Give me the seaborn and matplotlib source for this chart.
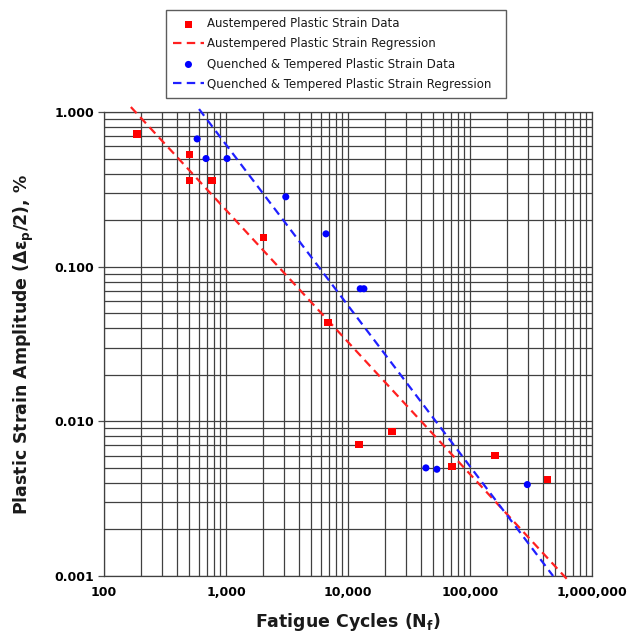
import matplotlib
matplotlib.use("Agg")
import matplotlib.pyplot as plt
import matplotlib.ticker as mticker
import seaborn as sns
import numpy as np
import pandas as pd

# ---- data ----
aus_cycles = [186, 500, 500, 767, 2040, 6860, 12300, 23000, 71000, 160000, 430000]
aus_strain = [0.72, 0.53, 0.36, 0.36, 0.154, 0.0435, 0.0071, 0.0086, 0.0051, 0.0060, 0.0042]

qt_cycles = [580, 686, 1020, 3090, 6600, 12600, 13500, 43500, 53500, 295000]
qt_strain = [0.67, 0.50, 0.50, 0.283, 0.163, 0.072, 0.072, 0.0050, 0.0049, 0.0039]

aus_reg_cycles = [166, 635000]
aus_reg_strain = [1.077, 0.00094]
qt_reg_cycles = [601, 480000]
qt_reg_strain = [1.045, 0.0010]

x_ticks = [100, 1000, 10000, 100000, 1000000]
x_tick_labels = ["100", "1,000", "10,000", "100,000", "1,000,000"]
y_ticks = [0.001, 0.01, 0.1, 1.0]
y_tick_labels = ["0.001", "0.010", "0.100", "1.000"]

sns.set_theme(style="white")
plt.rcParams['font.family'] = ['DejaVu Sans']

fig = plt.figure(figsize=(6.28, 6.35), dpi=100)
ax = fig.add_axes([104/628, 1-576/635, 488/628, 464/635])
ax.set_xscale("log")
ax.set_yscale("log")
ax.set_xlim(100, 1e6)
ax.set_ylim(0.001, 1.0)

# grid
ax.grid(True, which="both", color="0.25", linewidth=0.9)
ax.set_axisbelow(True)

df_aus = pd.DataFrame({"N": aus_cycles, "S": aus_strain})
df_qt = pd.DataFrame({"N": qt_cycles, "S": qt_strain})
df_aus_reg = pd.DataFrame({"N": aus_reg_cycles, "S": aus_reg_strain})
df_qt_reg = pd.DataFrame({"N": qt_reg_cycles, "S": qt_reg_strain})

sns.scatterplot(data=df_aus, x="N", y="S", ax=ax, marker="s", color="#ff0000",
                s=28, edgecolor="none", label="Austempered Plastic Strain Data", zorder=4)
sns.lineplot(data=df_aus_reg, x="N", y="S", ax=ax, color="#ff2020",
             linewidth=1.6, label="Austempered Plastic Strain Regression", zorder=3)
sns.scatterplot(data=df_qt, x="N", y="S", ax=ax, marker="o", color="#0000ff",
                s=26, edgecolor="none", label="Quenched & Tempered Plastic Strain Data", zorder=4)
sns.lineplot(data=df_qt_reg, x="N", y="S", ax=ax, color="#2020ff",
             linewidth=1.6, label="Quenched & Tempered Plastic Strain Regression", zorder=3)

for ln in ax.get_lines():
    ln.set_dashes([3.8, 2.4])
    ln.set_clip_on(False)

ax.set_xticks(x_ticks)
ax.set_xticklabels(x_tick_labels, fontweight="bold", fontsize=9)
ax.set_yticks(y_ticks)
ax.set_yticklabels(y_tick_labels, fontweight="bold", fontsize=9)
ax.xaxis.set_minor_formatter(mticker.NullFormatter())
ax.yaxis.set_minor_formatter(mticker.NullFormatter())
ax.tick_params(axis="both", which="major", length=4, color="0.3", width=0.9,
               left=True, bottom=False, pad=3, labelcolor="black")
ax.tick_params(axis="both", which="minor", length=0)
for sp in ax.spines.values():
    sp.set_color("0.25")
    sp.set_linewidth(0.9)

ax.set_xlabel(r"Fatigue Cycles (N$_\mathbf{f}$)", fontweight="bold", fontsize=12.5,
              labelpad=9, color="0.1")
ax.set_ylabel(r"Plastic Strain Amplitude (Δε$_\mathbf{p}$/2), %", fontweight="bold",
              fontsize=12.5, labelpad=13, color="0.1")

handles, labels = ax.get_legend_handles_labels()
ax.get_legend().remove()
leg = fig.legend(handles, labels, loc="center", bbox_to_anchor=(166/628, 1-98/635, 340/628, 88/635),
                 mode="expand", fontsize=8.5, frameon=True, fancybox=False, edgecolor="0.2",
                 handlelength=2.6, handletextpad=0.3, borderaxespad=0, labelspacing=0.6,
                 borderpad=0.6)
leg.get_frame().set_linewidth(1.0)
for t in leg.get_texts():
    t.set_color("0.1")

fig.savefig("out.png", dpi=100)
